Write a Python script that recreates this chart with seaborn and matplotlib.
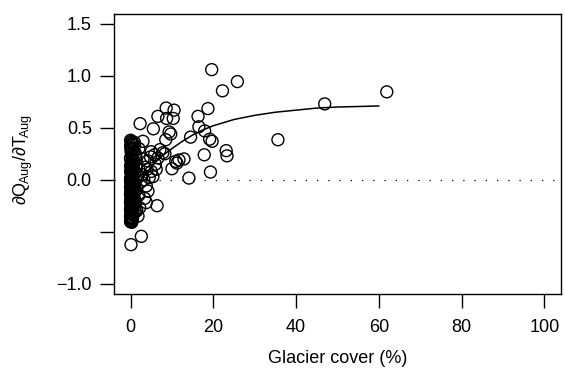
import matplotlib
matplotlib.use("Agg")
import matplotlib.pyplot as plt
import seaborn as sns

# ── Data ──────────────────────────────────────────────────────────────────────
# Basins with glacier cover > ~1 %
outer_x = [19.6, 25.8, 22.2, 61.9, 46.9, 35.6, 18.7, 16.3, 16.5, 17.9,
           19.1, 19.7, 14.5, 17.8, 23.1, 23.3, 19.3, 14.1, 10.0, 10.9,
           11.7, 12.9, 11.2, 8.3, 8.6, 10.5, 8.7, 10.3, 9.3, 9.7,
           8.5, 6.6, 2.3, 5.5, 3.0, 5.0, 5.8, 6.6, 7.8, 5.0,
           5.4, 6.4, 3.8, 4.2, 3.4, 3.8, 2.2, 1.8, 2.6, 0.1,
           1.5, 2.0, 2.8, 3.5, 4.2, 4.5, 1.2, 1.8, 2.5, 3.2,
           1.5, 2.0, 1.2, 1.5, 4.0, 6.0, 3.0, 2.0, 1.0, 6.2,
           7.1, 4.8, 1.2, 1.0, 1.4, 1.1, 1.3, 0.9]
outer_y = [1.06, 0.945, 0.856, 0.846, 0.73, 0.385, 0.685, 0.61, 0.51, 0.47,
           0.39, 0.37, 0.41, 0.24, 0.28, 0.23, 0.074, 0.016, 0.106, 0.176,
           0.19, 0.20, 0.16, 0.25, 0.69, 0.67, 0.59, 0.59, 0.46, 0.44,
           0.385, 0.61, 0.54, 0.49, 0.37, 0.27, 0.24, 0.21, 0.26, 0.08,
           0.03, -0.25, -0.06, -0.11, -0.18, -0.22, -0.27, -0.35, -0.545, -0.625,
           0.15, 0.10, 0.05, 0.12, 0.18, 0.02, 0.25, 0.05, -0.02, 0.0,
           -0.08, -0.15, -0.22, -0.30, 0.10, 0.15, 0.20, 0.30, 0.33, 0.10,
           0.29, 0.22, 0.0, -0.12, 0.12, -0.30, 0.22, 0.36]

# Basins with (almost) no glacier cover: dense column at x ~ 0
cluster_x = [0.0, 0.3, 0.6, 0.1, 0.4, 0.8, 0.2, 0.5, 0.0, 0.7,
             0.3, 0.1, 0.6, 0.4, 0.0, 0.9, 0.2, 0.5, 0.1, 0.3,
             0.7, 0.0, 0.4, 0.6, 0.2, 0.8, 0.1, 0.5, 0.3, 0.0,
             0.6, 0.2, 0.4, 0.9, 0.1, 0.5, 0.0, 0.3, 0.7, 0.2,
             0.4, 0.0, 0.6, 0.1, 0.3, 0.5, 0.0, 0.2, 0.4, 0.1,
             0.3,
             0.2, 0.5, 0.0, 0.4, 0.1, 0.6, 0.3, 0.0, 0.5, 0.2,
             0.4, 0.0, 0.3, 0.6, 0.1, 0.5, 0.2, 0.0, 0.4, 0.1,
             0.3, 0.5, 0.0, 0.2, 0.6, 0.1, 0.4, 0.0, 0.3, 0.5,
             0.1, 0.2, 0.0, 0.4, 0.3, 0.1, 0.5, 0.0, 0.2, 0.4,
             0.1, 0.3, 0.0, 0.5, 0.2, 0.1, 0.3, 0.0]
cluster_y = [0.38, 0.36, 0.34, 0.31, 0.29, 0.27, 0.25, 0.22, 0.20, 0.18,
             0.16, 0.14, 0.12, 0.10, 0.08, 0.06, 0.05, 0.03, 0.02, 0.0,
             -0.01, -0.02, -0.04, -0.05, -0.06, -0.08, -0.09, -0.10, -0.12, -0.13,
             -0.14, -0.16, -0.17, -0.18, -0.20, -0.21, -0.22, -0.24, -0.25, -0.26,
             -0.28, -0.29, -0.30, -0.32, -0.33, -0.34, -0.36, -0.37, -0.38, -0.40,
             -0.41,
             0.37, 0.35, 0.33, 0.30, 0.28, 0.26, 0.235, 0.21, 0.19, 0.17,
             0.15, 0.13, 0.11, 0.09, 0.07, 0.045, 0.025, 0.01, -0.005, -0.03,
             -0.045, -0.065, -0.07, -0.085, -0.11, -0.115, -0.135, -0.15, -0.155, -0.175,
             -0.19, -0.205, -0.215, -0.23, -0.245, -0.255, -0.27, -0.285, -0.295, -0.31,
             -0.325, -0.335, -0.35, -0.365, -0.375, -0.39, -0.395, -0.405]

# Fitted saturation curve
curve_x = [0, 1, 2, 3, 4, 5, 6, 8, 10, 12.5, 15, 17.5, 20, 25, 30, 35, 40, 45, 50, 55, 60]
curve_y = [-0.14, -0.09, -0.04, 0.03, 0.08, 0.12, 0.17, 0.24, 0.30, 0.37,
           0.43, 0.48, 0.52, 0.58, 0.62, 0.65, 0.67, 0.69, 0.70, 0.705, 0.71]

x_ticks = [0, 20, 40, 60, 80, 100]
y_ticks = [-1.0, -0.5, 0.0, 0.5, 1.0, 1.5]
y_tick_labels = ["\u22121.0", "", "0.0", "0.5", "1.0", "1.5"]

# ── Style ─────────────────────────────────────────────────────────────────────
sns.set_style("white")
plt.rcParams["font.family"] = ["Liberation Sans", "DejaVu Sans"]
plt.rcParams["mathtext.fontset"] = "custom"
plt.rcParams["mathtext.rm"] = "Liberation Sans"
plt.rcParams["mathtext.it"] = "Liberation Sans"
for key in ["text.color", "axes.labelcolor", "xtick.color", "ytick.color"]:
    plt.rcParams[key] = "black"
_FONT = 13

fig = plt.figure(figsize=(5.65, 3.69), dpi=100)
ax = fig.add_axes([0.2018, 0.2033, 0.7912, 0.760])

# ── Plot ──────────────────────────────────────────────────────────────────────
ax.axhline(0, color="black", lw=0.9, linestyle=(0, (1, 8)), zorder=1)
sns.scatterplot(x=cluster_x + outer_x, y=cluster_y + outer_y, ax=ax,
                marker="o", s=74, facecolor="none", edgecolor="black",
                linewidth=1.0, zorder=2)
sns.lineplot(x=curve_x, y=curve_y, ax=ax, color="black", lw=1.1, zorder=3)

ax.set_xlim(-4, 104)
ax.set_ylim(-1.1, 1.6)
ax.set_xticks(x_ticks)
ax.set_xticklabels([str(t) for t in x_ticks])
ax.set_yticks(y_ticks)
ax.set_yticklabels(y_tick_labels)
ax.tick_params(axis="both", direction="out", length=10, width=1,
               color="black", labelcolor="black", labelsize=_FONT,
               left=True, bottom=True)
ax.tick_params(axis="x", pad=8)
ax.tick_params(axis="y", pad=6)
for sp in ax.spines.values():
    sp.set_color("black")
    sp.set_linewidth(1.0)

fig.text(338 / 565, 1 - 363 / 369, "Glacier cover (%)", fontsize=_FONT,
         ha="center", va="baseline")
fig.text(23 / 565, 1 - 159 / 369, "$\\mathregular{\u2202Q_{\\!Aug}/\u2202T_{\\!Aug}}$",
         fontsize=_FONT, rotation=90, ha="center", va="center")

fig.savefig("out.png", dpi=100)
